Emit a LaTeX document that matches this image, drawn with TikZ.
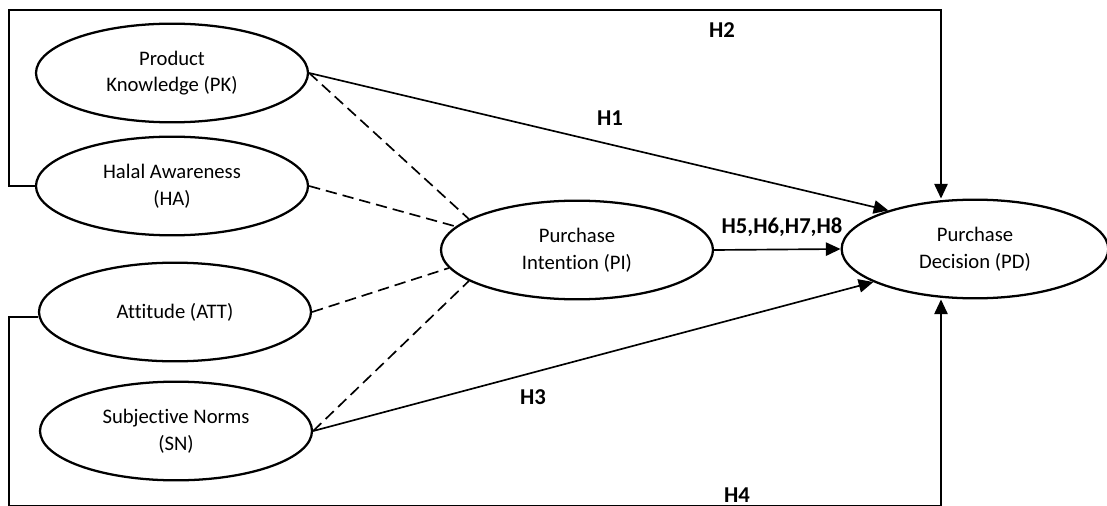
\documentclass[tikz,border=0pt]{standalone}
\usepackage{fontspec}
\setmainfont{Carlito}[Ligatures=NoCommon]
\usepackage{tikz}
\usetikzlibrary{shapes.geometric}
\usetikzlibrary{arrows.meta}

\begin{document}
\begin{tikzpicture}
		[x=0.75pt, y=-0.75pt,
		font=\fontsize{15.5}{20}\selectfont,
		>={Triangle[length=11pt,width=10pt]}
		]
		
		% Styles: constructs, solid and dashed paths, hypothesis labels
		\tikzstyle{construct}=[ellipse,draw,line width=1.7pt,minimum width=204pt,minimum height=74pt,align=center,inner sep=0];
		\tikzstyle{path line}=[line width=1.25pt];
		\tikzstyle{dash line}=[line width=1.25pt,dash pattern=on 8.5pt off 4.5pt];
		\tikzstyle{hyp}=[font=\fontsize{17}{20}\selectfont\bfseries];
		
		\useasboundingbox (0,0) rectangle (1107,506);
		
		% The constructs
		\node(pk)[construct] at (172,73) {Product\\Knowledge (PK)};
		\node(ha)[construct] at (172,186) {Halal Awareness\\(HA)};
		\node(att)[construct] at (175,312) {Attitude (ATT)};
		\node(sn)[construct] at (176,431) {Subjective Norms\\(SN)};
		\node(pi)[construct] at (577,250) {Purchase\\Intention (PI)};
		\node(pd)[construct,minimum width=200pt] at (975,249) {Purchase\\Decision (PD)};
		
		% Corners of the frame lines
		\coordinate(tl) at (9,10);
		\coordinate(tr) at (941,10);
		\coordinate(bl) at (9,506);
		\coordinate(br) at (941,506);
		
		% Direct paths
		\draw[path line,->](pk.east)--(pd.156);
		\draw[path line,->](pi.east)--(pd.west);
		\draw[path line,->](sn.east)--(pd.198);
		\draw[path line,->](ha.west)--(ha.west -| tl)--(tl)--(tr)--(tr |- pd.north);
		\draw[path line,->](att.182)--(att.182 -| bl)--(bl)--(br)--(br |- pd.south);
		
		% Mediated paths
		\draw[dash line](pk.east)--(pi.164);
		\draw[dash line](ha.east)--(pi.169);
		\draw[dash line](att.east)--(pi.188);
		\draw[dash line](sn.east)--(pi.196);
		
		% Hypotheses
		\node(h1)[hyp] at (610,118) {H1};
		\node(h2)[hyp] at (722,30) {H2};
		\node(h3)[hyp] at (533,397) {H3};
		\node(h4)[hyp] at (737,495) {H4};
		\node(h5)[hyp] at (782,227) {H5,H6,H7,H8};
\end{tikzpicture}
\end{document}
